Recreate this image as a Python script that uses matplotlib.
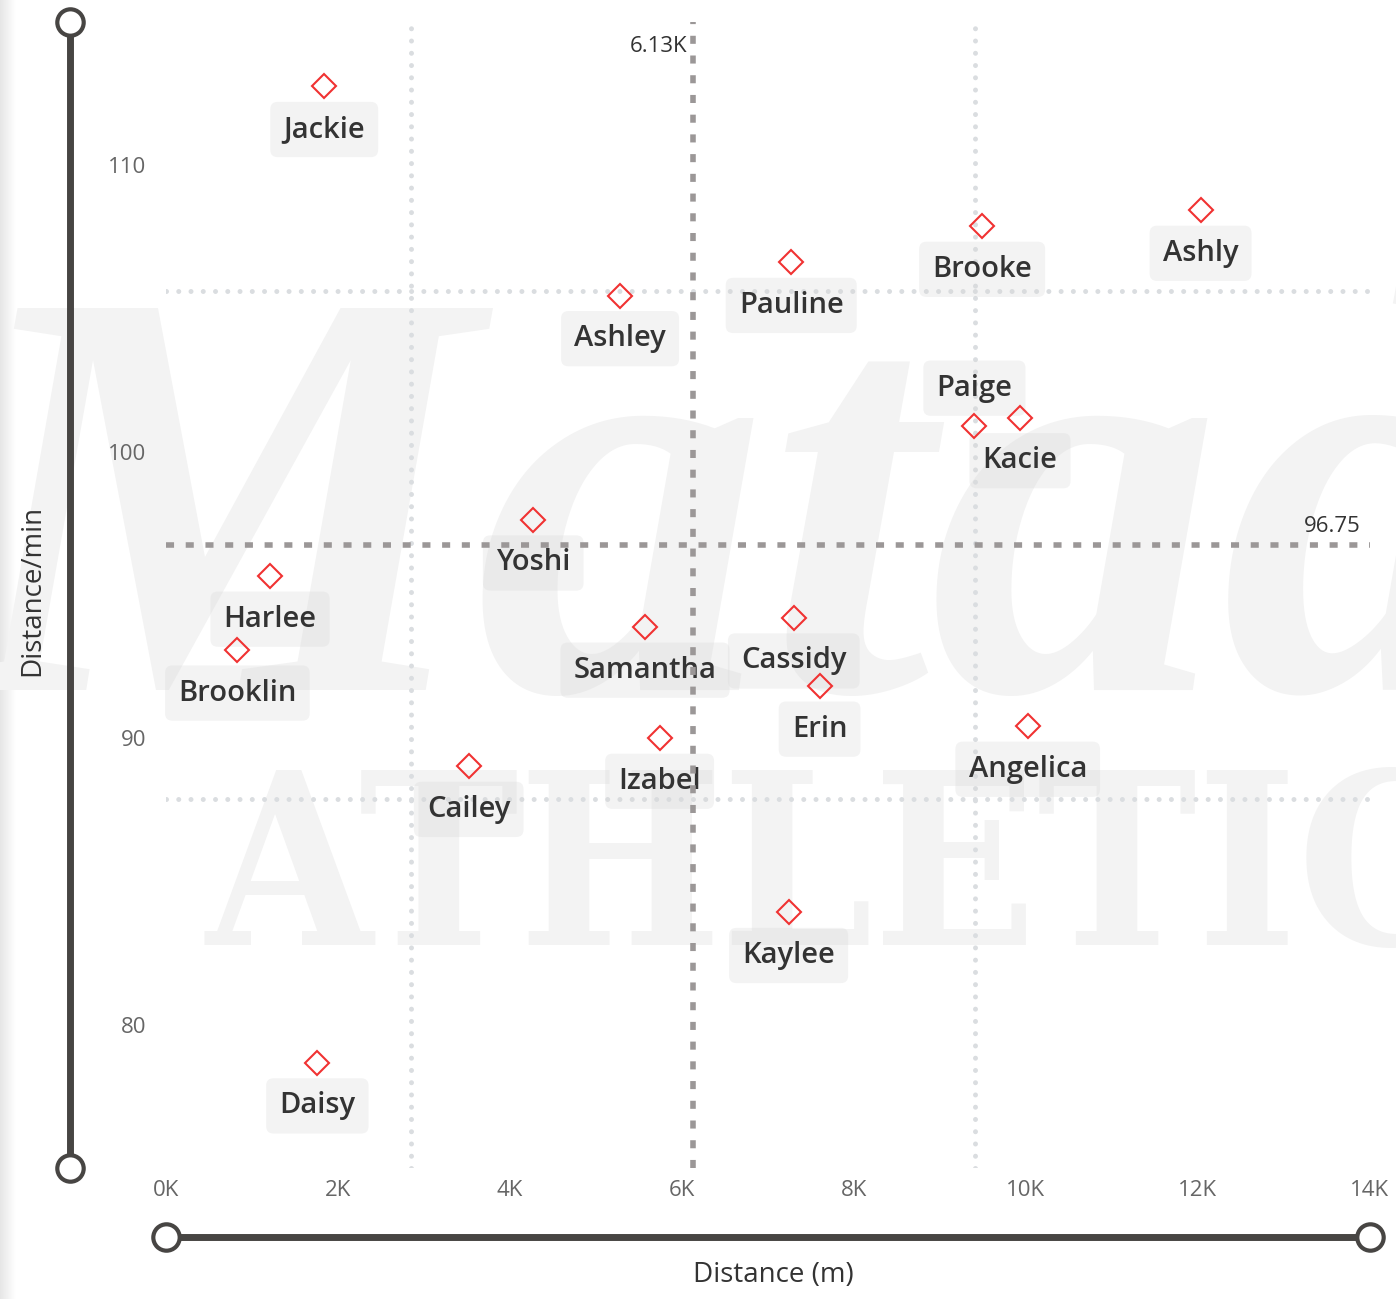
import numpy as np
import matplotlib.pyplot as plt
from matplotlib.lines import Line2D

plt.rcParams['font.family'] = ['Open Sans', 'DejaVu Sans']

# athletes: distance (m) vs distance per minute
names = ['Jackie', 'Ashly', 'Brooke', 'Pauline', 'Ashley', 'Kacie', 'Paige', 'Yoshi', 'Harlee',
         'Brooklin', 'Samantha', 'Cassidy', 'Erin', 'Izabel', 'Angelica', 'Cailey', 'Kaylee', 'Daisy']
distance = [1840, 12030, 9490, 7270, 5280, 9930, 9400, 4270, 1210,
            830, 5570, 7300, 7600, 5740, 10020, 3520, 7240, 1760]
pace = [112.75, 108.43, 107.87, 106.61, 105.45, 101.19, 100.91, 97.62, 95.66,
        93.08, 93.88, 94.20, 91.82, 90.00, 90.42, 89.02, 83.92, 78.67]
above = ['Paige']  # labels placed above the marker

xticks = [0, 2000, 4000, 6000, 8000, 10000, 12000, 14000]
xticklabels = ['0K', '2K', '4K', '6K', '8K', '10K', '12K', '14K']
yticks = [80, 90, 100, 110]

W, H = 1396, 1299
fig = plt.figure(figsize=(W / 100, H / 100), dpi=100)
ax = fig.add_axes([166 / W, 1 - 1168 / H, (1370 - 166) / W, (1168 - 22) / H])
ax.set_facecolor('none')
ax.set_xlim(0, 14000)
ax.set_ylim(75, 115)
for s in ax.spines.values():
    s.set_visible(False)

# left edge shading
gax = fig.add_axes([0, 0, 16 / W, 1], zorder=-20)
gax.imshow(np.linspace(0.90, 1.0, 50)[None, :], cmap='gray', vmin=0, vmax=1, aspect='auto')
gax.axis('off')

# watermark
fig.text(-0.03, 1 - 690 / H, 'Matador', fontsize=420, family='Liberation Serif', style='italic',
         weight='bold', color='#f3f3f3', va='baseline', zorder=-10)
fig.text(205 / W, 1 - 945 / H, 'ATHLETIC', fontsize=172, family='DejaVu Serif', stretch='condensed',
         weight='bold', color='#f3f3f3', va='baseline', zorder=-10)

x = np.array(distance)
y = np.array(pace)
mx, my = x.mean(), y.mean()
sx, sy = x.std(), y.std()

# std gridlines
dot = dict(color='#dadde0', lw=3.6, ls=(0, (0.001, 2.45)), dash_capstyle='round', zorder=1)
for v in (mx - sx, mx + sx):
    ax.axvline(v, **dot)
for v in (my - sy, my + sy):
    ax.axhline(v, **dot)

# mean lines
dash = dict(color='#9b9797', lw=4, ls=(0, (1.45, 2.1)), zorder=4)
ax.axvline(mx, **dash)
ax.axhline(my, **dash)
ax.annotate(f'{mx / 1000:.2f}K', (mx, 115), xytext=(-4, -18), textcoords='offset points',
            ha='right', va='center', fontsize=16, color='#333333')
ax.annotate(f'{my:.2f}', (14000, my), xytext=(-7, 13), textcoords='offset points',
            ha='right', va='center', fontsize=16, color='#333333')

ax.plot(x, y, ls='none', marker='D', ms=12.5, mfc='none', mec='#f03232', mew=1.5, zorder=5)
for n, xi, yi in zip(names, x, y):
    off = 27 if n in above else -31
    ax.annotate(n, (xi, yi), xytext=(0, off), textcoords='offset points', ha='center', va='center',
                fontsize=21, color='#333333', weight='semibold', zorder=3,
                bbox=dict(boxstyle='round,pad=0.45,rounding_size=0.25', fc='#d8d8d8', ec='none', alpha=0.3))

ax.set_xticks(xticks, xticklabels)
ax.set_yticks(yticks)
ax.tick_params(length=0, labelsize=16, labelcolor='#666666')
ax.tick_params(axis='x', pad=9)
ax.tick_params(axis='y', pad=14)

# axis lines with circle ends
col = '#474543'
for xs, ys in [([70, 70], [22, 1168]), ([166, 1370], [1237, 1237])]:
    fx = [v / W for v in xs]
    fy = [1 - v / H for v in ys]
    fig.add_artist(Line2D(fx, fy, color=col, lw=5, transform=fig.transFigure, zorder=6))
    fig.add_artist(Line2D(fx, fy, ls='none', marker='o', ms=19, mfc='white', mec=col, mew=3,
                          transform=fig.transFigure, zorder=7))

fig.text(773 / W, 1 - 1275 / H, 'Distance (m)', fontsize=20, color='#333333', ha='center', va='center')
fig.text(32 / W, 1 - 590 / H, 'Distance/min', fontsize=20, color='#333333', ha='center', va='center',
         rotation=90)

fig.savefig('out.png', dpi=100, facecolor='white')
